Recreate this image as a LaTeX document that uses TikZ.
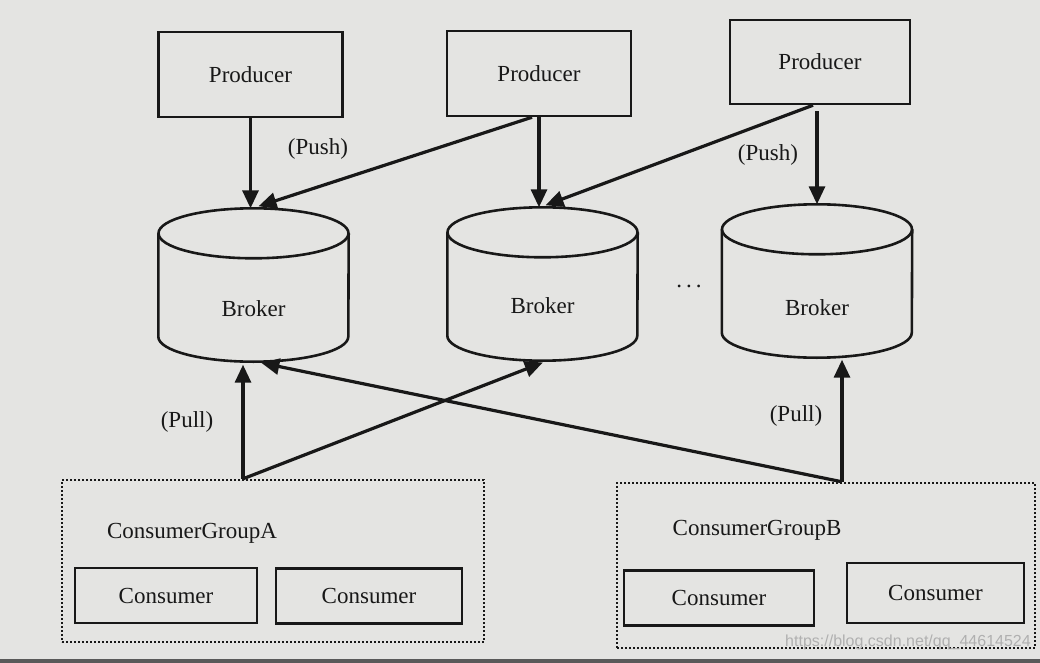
\documentclass[tikz,border=0pt]{standalone}
\usepackage{fontspec}
\setmainfont{Liberation Serif}
\newfontfamily\wmfont{Liberation Sans}
\usetikzlibrary{arrows.meta,calc}
\definecolor{bgc}{HTML}{E4E4E2}
\definecolor{ink}{HTML}{181818}
\definecolor{wmc}{HTML}{B0B0B0}
\tikzset{
  lab/.style={font=\fontsize{23}{27}\selectfont, text=ink, inner sep=0pt},
  prodbox/.style={draw=ink, line width=2.5pt, minimum width=184pt, minimum height=85pt, lab},
  consbox/.style={draw=ink, line width=2.5pt, minimum width=184pt, minimum height=55pt, lab},
  groupbox/.style={draw=ink, line width=2.4pt, dash pattern=on 2pt off 2pt, inner sep=0pt},
  brokerbox/.style={draw=none, minimum width=190pt, minimum height=153pt, inner sep=0pt},
  cyl/.style={draw=ink, line width=2.6pt},
  arr/.style={draw=ink, line width=3.2pt, -{Triangle[length=18pt,width=16pt]}},
}
\begin{document}
\begin{tikzpicture}[x=1pt,y=-1pt]
\useasboundingbox (0,0) rectangle (1040,663);
\fill[bgc] (0,0) rectangle (1040,663);
\fill[black!65] (0,659) rectangle (1040,663);

% producers
\node[prodbox] (p1) at (250.5,74.5) {Producer};
\node[prodbox] (p2) at (539,73.5) {Producer};
\node[prodbox, minimum width=180pt, minimum height=84pt] (p3) at (820,62) {Producer};

% brokers
\foreach \n/\cx/\cy in {b1/253.5/285, b2/542.5/284, b3/817/281}{
  \node[brokerbox] (\n) at (\cx,\cy) {};
  \draw[cyl] ([yshift=-25pt]\n.north west) -- ([yshift=25pt]\n.south west)
    arc[start angle=180, end angle=360, x radius=95pt, y radius=25pt]
    -- ([yshift=-25pt]\n.north east);
  \draw[cyl] ([yshift=-25pt]\n.north) ellipse[x radius=95pt, y radius=25pt];
}
\node[lab] (bl1) at ([yshift=-24pt]b1.center) {Broker};
\node[lab] (bl2) at ([yshift=-22pt]b2.center) {Broker};
\node[lab] (bl3) at ([yshift=-27pt]b3.center) {Broker};
\node[lab] (dots) at (689,286) {.\hspace{4pt}.\hspace{4pt}.};

% push arrows
\draw[arr] (p1.south) -- (p1.south |- b1.north);
\draw[arr] ([xshift=-7pt]p2.south) -- ([xshift=5pt,yshift=2pt]b1.north);
\draw[arr] (p2.south) -- (p2.south |- b2.north);
\draw[arr] ([xshift=-7pt]p3.south) -- ([xshift=3pt,yshift=2pt]b2.north);
\draw[arr] ([yshift=-6pt]p3.south -| b3.north) -- (b3.north);
\node[lab] (push1) at (318,149) {(Push)};
\node[lab] (push2) at (768,155) {(Push)};

% consumer groups
\node[groupbox, minimum width=422pt, minimum height=162pt] (ga) at (273,561) {};
\node[groupbox, minimum width=418pt, minimum height=165pt] (gb) at (826,565.5) {};
\node[lab] (gal) at (192,533) {ConsumerGroupA};
\node[lab] (gbl) at (757,530) {ConsumerGroupB};
\node[consbox, minimum width=182pt] (c1) at (166,595.5) {Consumer};
\node[consbox, minimum width=186pt] (c2) at (369,596) {Consumer};
\node[consbox, minimum width=190pt] (c3) at (719,598) {Consumer};
\node[consbox, minimum width=177pt, minimum height=60pt] (c4) at (935.5,593) {Consumer};

% pull arrows
\coordinate (gat) at ([xshift=-30pt]ga.north);
\coordinate (gbt) at ([xshift=16pt]gb.north);
\draw[arr, shorten >=3pt] (gat) -- (gat |- b1.south);
\draw[arr, shorten >=5pt] (gat) -- ([xshift=5pt]b2.south);
\draw[arr, shorten >=2pt] (gbt) -- (gbt |- b3.south);
\draw[arr, shorten >=6pt] (gbt) -- ([xshift=2pt]b1.south);
\node[lab] (pull1) at (187,422) {(Pull)};
\node[lab] (pull2) at (796,416) {(Pull)};

% watermark
\node[font=\wmfont\fontsize{16}{18}\selectfont, text=wmc, inner sep=0pt] (wm) at (908,642) {https://blog.csdn.net/qq\_44614524};
\end{tikzpicture}
\end{document}
